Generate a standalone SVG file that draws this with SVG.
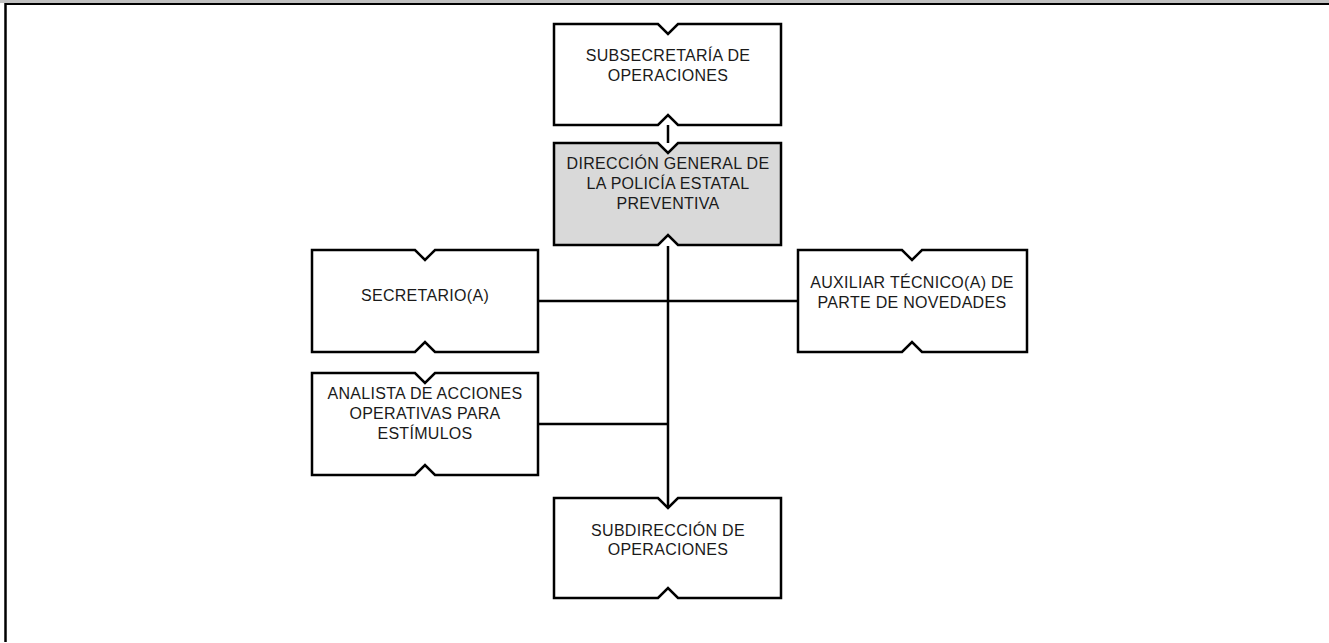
<svg xmlns="http://www.w3.org/2000/svg" width="1329" height="643" viewBox="0 0 1329 643">
<style>
.box{fill:#fff;stroke:#000;stroke-width:2.5;stroke-linejoin:miter}
.gray{fill:#d9d9d9}
.conn{stroke:#000;stroke-width:2.5;fill:none}
text{font-family:"Liberation Sans",Arial,sans-serif;font-size:16px;fill:#1a1a1a;text-anchor:middle;letter-spacing:0.3px}
</style>
<rect x="0" y="0" width="1329" height="643" fill="#fff"/>
<rect x="0" y="0" width="1329" height="3" fill="#c0c0c0"/>
<line x1="5" y1="4" x2="1329" y2="4" stroke="#000" stroke-width="2"/>
<line x1="5.5" y1="3" x2="5.5" y2="642" stroke="#000" stroke-width="2.5"/>
<g id="connectors">
<line class="conn" x1="668" y1="125" x2="668" y2="143"/>
<line class="conn" x1="668" y1="246" x2="668" y2="508"/>
<line class="conn" x1="538" y1="301" x2="798" y2="301"/>
<line class="conn" x1="538" y1="424" x2="668" y2="424"/>
</g>
<g id="n1">
<path class="box" d="M554,24 H658 L668,34 L678,24 H781 V125 H678 L668,115 L658,125 H554 Z"/>
<text x="668" y="61">SUBSECRETARÍA DE</text>
<text x="668" y="81">OPERACIONES</text>
</g>
<g id="n2">
<path class="box gray" d="M554,143 H658 L668,153 L678,143 H781 V245 H678 L668,235 L658,245 H554 Z"/>
<text x="668" y="169">DIRECCIÓN GENERAL DE</text>
<text x="668" y="189">LA POLICÍA ESTATAL</text>
<text x="668" y="209">PREVENTIVA</text>
</g>
<g id="n3">
<path class="box" d="M312,250 H415 L425,260 L435,250 H538 V352 H435 L425,342 L415,352 H312 Z"/>
<text x="425" y="301">SECRETARIO(A)</text>
</g>
<g id="n4">
<path class="box" d="M798,250 H902 L912,260 L922,250 H1027 V352 H922 L912,342 L902,352 H798 Z"/>
<text x="912" y="288">AUXILIAR TÉCNICO(A) DE</text>
<text x="912" y="308">PARTE DE NOVEDADES</text>
</g>
<g id="n5">
<path class="box" d="M312,373 H415 L425,383 L435,373 H538 V475 H435 L425,465 L415,475 H312 Z"/>
<text x="425" y="399">ANALISTA DE ACCIONES</text>
<text x="425" y="419">OPERATIVAS PARA</text>
<text x="425" y="439">ESTÍMULOS</text>
</g>
<g id="n6">
<path class="box" d="M554,498 H658 L668,508 L678,498 H781 V598 H678 L668,588 L658,598 H554 Z"/>
<text x="668" y="536">SUBDIRECCIÓN DE</text>
<text x="668" y="555">OPERACIONES</text>
</g>
</svg>
